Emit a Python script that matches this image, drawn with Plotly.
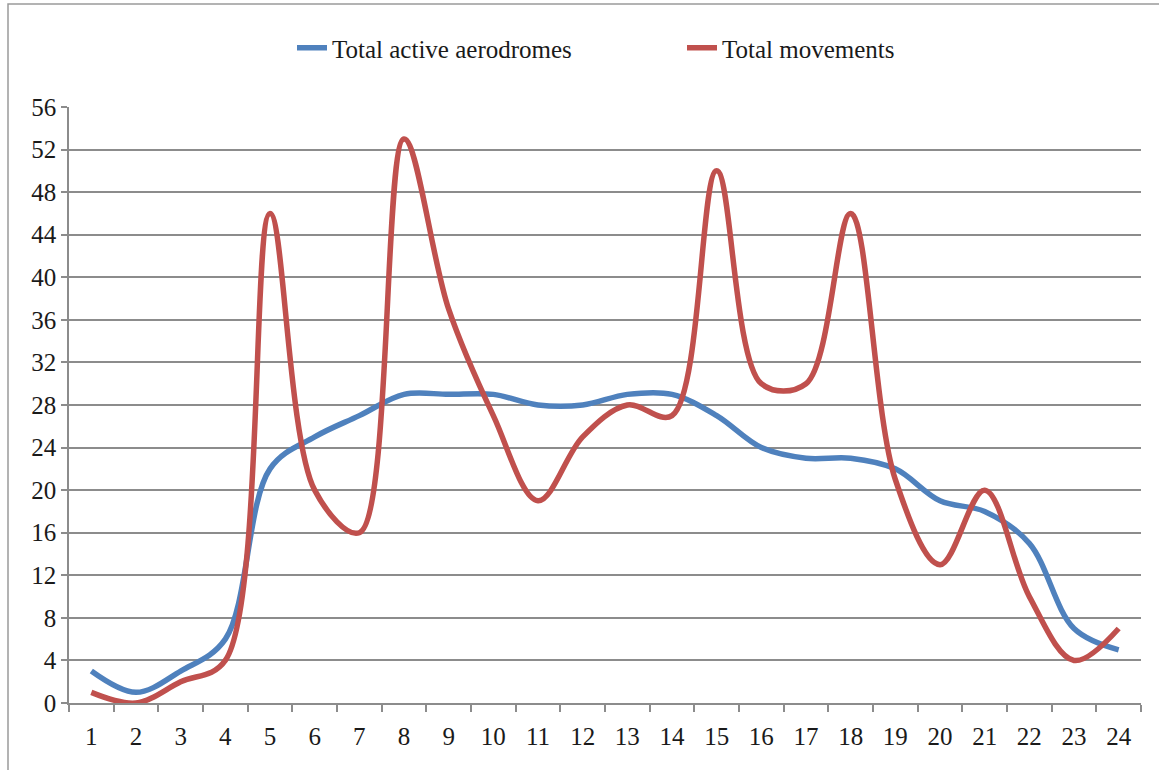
import plotly.graph_objects as go

hours = [str(i) for i in range(1, 25)]
active_aerodromes = [3, 1, 3, 6, 22, 25, 27, 29, 29, 29, 28, 28, 29, 29, 27, 24, 23, 23, 22, 19, 18, 15, 7, 5]
movements = [1, 0, 2, 4, 46, 20, 16, 53, 37, 27, 19, 25, 28, 27, 50, 30, 30, 46, 21, 13, 20, 10, 4, 7]
y_ticks = list(range(0, 57, 4))

W, H = 1159, 770
L, R, T, B = 69, 18, 107, 67
pw, ph = W - L - R, H - T - B

def px(x):
    return (x - L) / pw

def py(y):
    return (H - B - y) / ph

fig = go.Figure()
fig.add_trace(go.Scatter(x=hours, y=active_aerodromes, name="Total active aerodromes",
                         mode="lines", line=dict(color="#4F81BD", width=5.5, shape="spline", smoothing=1)))
fig.add_trace(go.Scatter(x=hours, y=movements, name="Total movements",
                         mode="lines", line=dict(color="#C0504D", width=5.5, shape="spline", smoothing=1)))

font_family = "Liberation Serif"
txt = dict(family=font_family, size=25, color="#1a1a1a")
fig.update_layout(
    width=W, height=H,
    margin=dict(l=L, r=R, t=T, b=B),
    paper_bgcolor="white", plot_bgcolor="white",
    font=txt,
    showlegend=True,
    legend=dict(orientation="h", x=px(292), y=py(48), xanchor="left", yanchor="middle",
                font=txt, entrywidth=345, entrywidthmode="pixels", bgcolor="rgba(0,0,0,0)"),
    xaxis=dict(type="category", range=[-0.5, 23.5], showgrid=False,
               showline=True, linecolor="#8c8c8c", linewidth=1.5,
               ticks="outside", tickson="boundaries", ticklen=7, tickcolor="#8c8c8c", tickwidth=1.5,
               ticklabelstandoff=10, tickfont=txt, fixedrange=True),
    yaxis=dict(range=[0, 56], tickvals=y_ticks, ticktext=[str(v) for v in y_ticks],
               showgrid=True, gridcolor="#8c8c8c", gridwidth=1.5, zeroline=False,
               showline=True, linecolor="#8c8c8c", linewidth=1.5,
               ticks="outside", ticklen=6, tickcolor="#8c8c8c", tickwidth=1.5,
               tickfont=txt, fixedrange=True),
    shapes=[dict(type="rect", xref="paper", yref="paper",
                 x0=px(8), x1=px(1166), y0=py(776), y1=py(4),
                 line=dict(color="#9a9a9a", width=1.5), fillcolor="rgba(0,0,0,0)", layer="below")],
)

css = (".modebar-container{display:none !important;}"
       ".main-svg text{font-family:'Liberation Serif','Times New Roman','DejaVu Serif',serif !important;}")
fig.write_html("out.html",
               post_script="document.body.style.margin='0px';document.body.style.overflow='hidden';"
                           "var s=document.createElement('style');s.textContent=\"" + css + "\";"
                           "document.head.appendChild(s);")
